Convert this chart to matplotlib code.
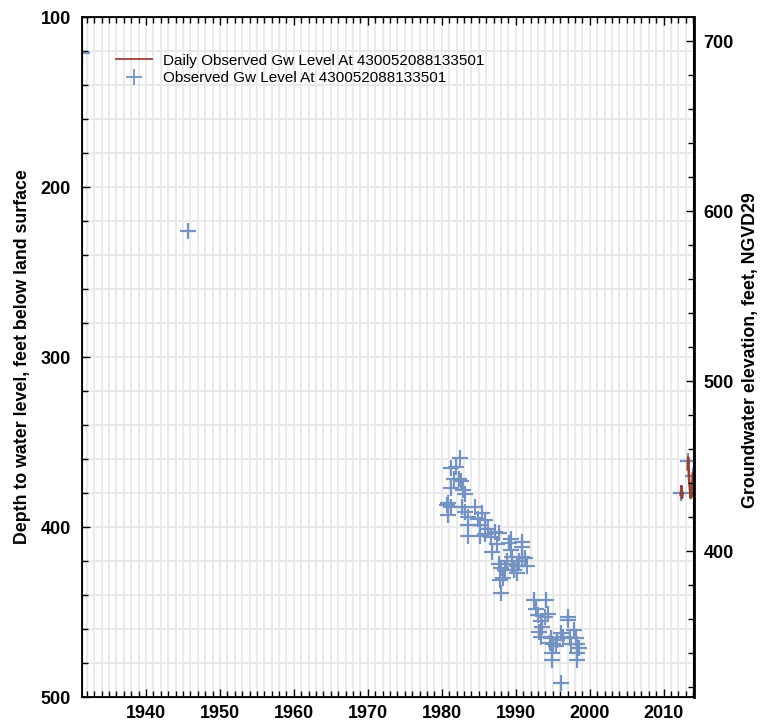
import numpy as np
import matplotlib.pyplot as plt
from matplotlib.ticker import MultipleLocator
from matplotlib.lines import Line2D

plt.rcParams['font.family'] = ['Liberation Sans', 'DejaVu Sans']

site_id = "430052088133501"
land_surface = 814.3  # ft NGVD29

# periodic manual measurements (decimal year, depth in ft below land surface)
obs_year = [1931.35, 1945.7,
            1980.7, 1980.9, 1980.9, 1981.2, 1981.2, 1981.3, 1981.6, 1981.9,
            1982.3, 1982.4, 1982.6, 1982.7, 1982.9, 1983.2, 1983.2, 1983.5,
            1983.6, 1983.6, 1984.5, 1984.9, 1985.2, 1985.2, 1985.4, 1985.8,
            1985.8, 1986.3, 1986.7, 1986.8, 1987.2, 1987.5, 1987.8, 1987.8,
            1987.9, 1988.0, 1988.0, 1988.3, 1988.6, 1988.8, 1989.1, 1989.3,
            1989.3, 1989.5, 1989.5, 1989.7, 1990.2, 1990.2, 1990.5, 1990.8,
            1990.9, 1990.9, 1991.2, 1991.5, 1992.5, 1992.7, 1993.0, 1993.1,
            1993.4, 1993.4, 1993.6, 1993.9, 1994.1, 1994.3, 1994.6, 1994.7,
            1994.9, 1994.9, 1995.1, 1995.5, 1995.6, 1996.1, 1996.1, 1996.4,
            1997.0, 1997.0, 1997.3, 1997.5, 1997.9, 1998.1, 1998.3, 1998.3,
            1998.3, 1998.6,
            2012.4, 2013.3, 2013.9]
obs_depth = [121.2, 225.9,
             387, 386, 393, 388, 365.5, 377, 372, 364.5,
             372, 359.6, 373, 388, 378, 380.8, 391, 394,
             399, 405, 388, 395, 399, 405, 392, 396,
             404, 401, 406, 414.7, 403, 410, 403.5, 422,
             431, 439, 424, 430, 425, 420, 409.6, 413.5,
             407, 417.5, 422, 425, 423, 427, 420, 409,
             411.6, 417.5, 418.4, 423, 443, 448, 452, 461.6,
             455, 464.5, 458.6, 453, 443, 451, 468, 465.5,
             474, 478, 469, 470, 466.5, 462.5, 492, 464.5,
             452.7, 454.6, 465.5, 469, 460.6, 465.5, 469, 474,
             478, 471.4,
             380, 361, 370]

# daily transducer record (nan = gap in record)
daily_year = [2012.30, 2012.38, 2012.43, 2012.47, 2012.52, 2012.58, 2012.90,
              2013.25, 2013.30, 2013.35, 2013.42, 2013.55, 2013.65, 2013.72,
              2013.80, 2013.90, 2013.96, 2014.00]
daily_depth = [381, 378, 376, 383, 381, 380, np.nan,
               366, 359, 362, 371, 378, 383, 379,
               382, 373, 368, 376]

fig = plt.figure(figsize=(7.6, 7.23), dpi=100)
ax = fig.add_axes([82/760, 1 - 697/723, 612/760, 680/723])

line_col = '#94413A'
mark_col = '#7493C2'

ax.plot(obs_year, obs_depth, ls='none', marker='+', ms=11, mew=1.6,
        color=mark_col, zorder=3)
ax.plot(daily_year, daily_depth, color=line_col, lw=1.8, zorder=4)

ax.set_xlim(1931.35, 2014.1)
ax.set_ylim(500, 100)

ax.xaxis.set_major_locator(MultipleLocator(10))
ax.xaxis.set_minor_locator(MultipleLocator(1))
ax.yaxis.set_major_locator(MultipleLocator(100))
ax.yaxis.set_minor_locator(MultipleLocator(20))

ax.grid(which='both', color='#E8E8E8', lw=1.3, zorder=0)
ax.set_axisbelow(True)

ax.tick_params(which='both', direction='in', top=True, right=False,
               color='black', width=1)
ax.tick_params(which='major', length=6)
ax.tick_params(which='minor', length=4)
ax.tick_params(axis='x', which='major', pad=6)
ax.tick_params(axis='y', which='major', pad=8)
for lab in ax.get_xticklabels() + ax.get_yticklabels():
    lab.set_fontweight('bold')
    lab.set_fontsize(13)

for sp in ax.spines.values():
    sp.set_linewidth(1.3)
    sp.set_color('black')

ax.set_ylabel('Depth to water level, feet below land surface',
              fontsize=12.8, fontweight='bold')
ax.yaxis.set_label_coords(-0.083, 0.5)

# right axis: water level elevation
ax2 = ax.twinx()
ax2.set_ylim(land_surface - 500, land_surface - 100)
ax2.yaxis.set_major_locator(MultipleLocator(100))
ax2.yaxis.set_minor_locator(MultipleLocator(20))
ax2.tick_params(which='both', direction='in', width=1, color='black')
ax2.tick_params(which='major', length=6, pad=7)
ax2.tick_params(which='minor', length=4)
for lab in ax2.get_yticklabels():
    lab.set_fontweight('bold')
    lab.set_fontsize(13)
ax2.spines['right'].set_linewidth(2)
ax2.set_ylabel('Groundwater elevation, feet, NGVD29',
               fontsize=12.8, fontweight='bold')
ax2.yaxis.set_label_coords(1.079, 0.51)

handles = [Line2D([], [], color=line_col, lw=1.3),
           Line2D([], [], ls='none', marker='+', ms=11, mew=1.3, color=mark_col)]
labels = [f'Daily Observed Gw Level At {site_id}',
          f'Observed Gw Level At {site_id}']
leg = ax2.legend(handles, labels, loc='upper left',
                 bbox_to_anchor=(0.055, 0.946), frameon=False, fontsize=11,
                 handlelength=2.4, handletextpad=0.7, labelspacing=0.23,
                 borderpad=0, borderaxespad=0)

fig.savefig('out.png', dpi=100)
